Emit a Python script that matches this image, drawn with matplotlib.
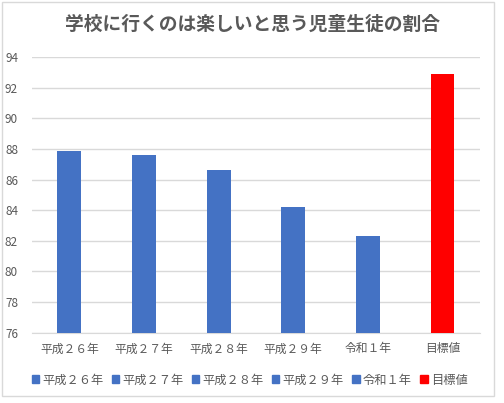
import matplotlib
matplotlib.use("Agg")
import matplotlib.pyplot as plt
from matplotlib.patches import Rectangle

plt.rcParams['font.family'] = ['Noto Sans CJK JP', 'DejaVu Sans']

# data
categories = ['平成２６年', '平成２７年', '平成２８年', '平成２９年', '令和１年', '目標値']
values = [87.9, 87.6, 86.6, 84.2, 82.3, 92.9]
colors = ['#4472C4', '#4472C4', '#4472C4', '#4472C4', '#4472C4', '#FF0000']
yticks = [76, 78, 80, 82, 84, 86, 88, 90, 92, 94]

text_col = '#595959'
grid_col = '#D9D9D9'

fig = plt.figure(figsize=(5.04, 4.03), dpi=100)
ax = fig.add_axes([0.0635, 0.1744, 0.8885, 0.6836])

x = list(range(len(categories)))
ax.bar(x, values, width=0.32, color=colors, zorder=3)

ax.set_ylim(76, 94)
ax.set_xlim(-0.5, len(categories) - 0.5)
ax.set_yticks(yticks)
ax.set_xticks(x)
ax.set_xticklabels(categories)
ax.yaxis.grid(True, color=grid_col, linewidth=1, zorder=0)
for s in ['top', 'right', 'left']:
    ax.spines[s].set_visible(False)
ax.spines['bottom'].set_color(grid_col)
ax.tick_params(axis='both', length=0, colors=text_col, labelsize=8.5)
ax.tick_params(axis='x', pad=7)
ax.tick_params(axis='y', pad=10)

fig.text(0.5, 0.94, '学校に行くのは楽しいと思う児童生徒の割合', ha='center', va='center',
         fontsize=13.5, fontweight='bold', color=text_col)

# legend: one entry per bar
handles = [Rectangle((0, 0), 1, 1, color=c) for c in colors]
fig.legend(handles, categories, loc='center', bbox_to_anchor=(0.495, 0.057), ncol=6,
           frameon=False, fontsize=8.8, labelcolor=text_col, handlelength=0.6,
           handleheight=0.6, handletextpad=0.25, columnspacing=0.7)

# chart-area border
fig.patches.append(Rectangle((2 / 504, 7 / 403), 492 / 504, 394 / 403, transform=fig.transFigure,
                             fill=False, edgecolor=grid_col, linewidth=1))

fig.savefig('out.png', dpi=100)
